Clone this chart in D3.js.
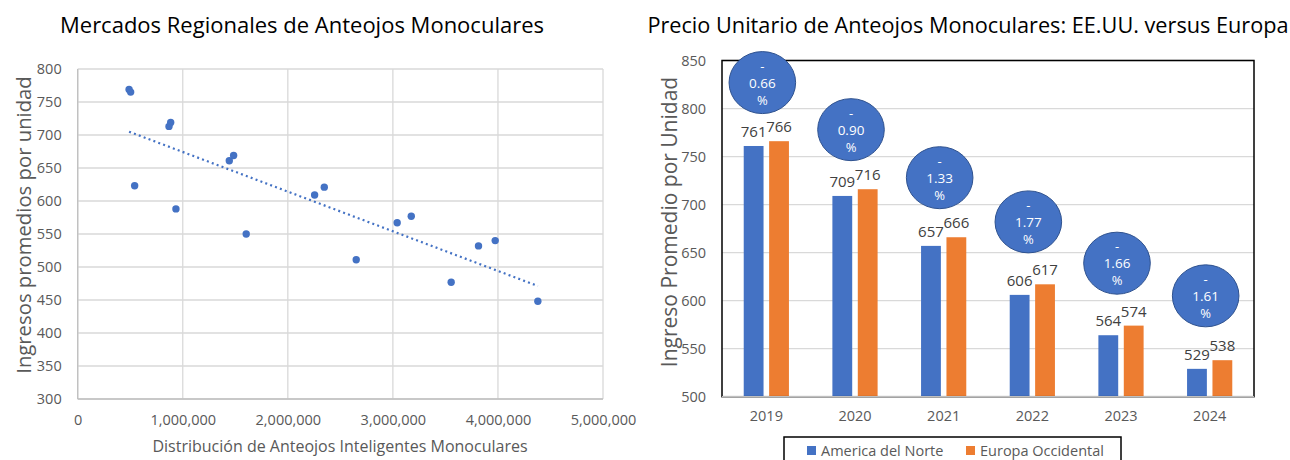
<!DOCTYPE html>
<html>
<head>
<meta charset="utf-8">
<script src="https://cdn.jsdelivr.net/npm/d3@7"></script>
<style>
  body { margin: 0; background: #fff; }
  text { font-family: "Open Sans", "Noto Sans", sans-serif; }
</style>
</head>
<body>
<script>
// ---- data: scatter (regional markets) ----
const units = [489000, 504000, 542000, 869000, 885000, 935000, 1443000, 1484000, 1604000,
               2255000, 2347000, 2651000, 3041000, 3175000, 3555000, 3815000, 3974000, 4380000];
const revenue = [769, 765, 623, 713, 719, 588, 661, 669, 550,
                 609, 621, 511, 567, 577, 477, 532, 540, 448];
const scatterXTicks = [0, 1000000, 2000000, 3000000, 4000000, 5000000];
const scatterYTicks = [300, 350, 400, 450, 500, 550, 600, 650, 700, 750, 800];

// ---- data: bars (unit price US vs Europe) ----
const years = ["2019", "2020", "2021", "2022", "2023", "2024"];
const series = ["America del Norte", "Europa Occidental"];
const northAmerica = [761, 709, 657, 606, 564, 529];
const westEurope = [766, 716, 666, 617, 574, 538];
const gapLabels = ["0.66", "0.90", "1.33", "1.77", "1.66", "1.61"];
const bubbleLevel = [827, 778, 728, 682, 639, 605];
const barYTicks = [500, 550, 600, 650, 700, 750, 800, 850];

const blue = "#4472C4", orange = "#ED7D31", grid = "#d9d9d9", tickCol = "#595959";

let width = 1290, height = 460;
let svg = d3.select("body").append("svg")
    .attr("width", width)
    .attr("height", height);

// ================= left chart =================
let xS = d3.scaleLinear().domain([0, 5000000]).range([77.7, 603]);
let yS = d3.scaleLinear().domain([300, 800]).range([399, 69]);

let left = svg.append("g");

left.selectAll(".hg").data(scatterYTicks).enter().append("line")
    .attr("x1", xS(0)).attr("x2", xS(5000000))
    .attr("y1", d => yS(d)).attr("y2", d => yS(d))
    .attr("stroke", grid).attr("stroke-width", 1.3);
left.selectAll(".vg").data(scatterXTicks).enter().append("line")
    .attr("x1", d => xS(d)).attr("x2", d => xS(d))
    .attr("y1", yS(300)).attr("y2", yS(800))
    .attr("stroke", grid).attr("stroke-width", 1.3);
// axis lines
left.append("line").attr("x1", xS(0)).attr("x2", xS(5000000))
    .attr("y1", yS(300)).attr("y2", yS(300)).attr("stroke", "#bfbfbf").attr("stroke-width", 1.3);
left.append("line").attr("x1", xS(0)).attr("x2", xS(0))
    .attr("y1", yS(300)).attr("y2", yS(800)).attr("stroke", "#bfbfbf").attr("stroke-width", 1.3);

let fmt = d3.format(",");
let xAx = left.append("g")
    .attr("transform", `translate(0,${yS(300)})`)
    .call(d3.axisBottom(xS).tickValues(scatterXTicks).tickFormat(fmt).tickSize(0).tickPadding(16));
let yAx = left.append("g")
    .attr("transform", `translate(${xS(0)},0)`)
    .call(d3.axisLeft(yS).tickValues(scatterYTicks).tickSize(0).tickPadding(16));
[xAx, yAx].forEach(a => {
    a.select(".domain").remove();
    a.selectAll("text").attr("fill", tickCol).style("font-size", "14.5px")
        .style("font-family", "'Open Sans', sans-serif");
});

// trend line (least squares)
let mx = d3.mean(units), my = d3.mean(revenue);
let slope = d3.sum(units, (u, i) => (u - mx) * (revenue[i] - my)) / d3.sum(units, u => (u - mx) * (u - mx));
let icpt = my - slope * mx;
let x0 = d3.min(units), x1 = d3.max(units);
left.append("line")
    .attr("x1", xS(x0)).attr("y1", yS(icpt + slope * x0))
    .attr("x2", xS(x1)).attr("y2", yS(icpt + slope * x1))
    .attr("stroke", blue).attr("stroke-width", 2.2)
    .attr("stroke-dasharray", "2,3.2");

left.selectAll("circle").data(units).enter().append("circle")
    .attr("cx", d => xS(d))
    .attr("cy", (d, i) => yS(revenue[i]))
    .attr("r", 3.7)
    .attr("fill", blue);

left.append("text")
    .attr("x", 302).attr("y", 33)
    .attr("text-anchor", "middle")
    .style("font-size", "22px").attr("fill", "#000")
    .text("Mercados Regionales de Anteojos Monoculares");
left.append("text")
    .attr("transform", "rotate(-90)")
    .attr("x", -225).attr("y", 31)
    .attr("text-anchor", "middle")
    .style("font-size", "20.3px").attr("fill", tickCol)
    .text("Ingresos promedios por unidad");
left.append("text")
    .attr("x", 340).attr("y", 452)
    .attr("text-anchor", "middle")
    .style("font-size", "16px").attr("fill", tickCol)
    .text("Distribución de Anteojos Inteligentes Monoculares");

// ================= right chart =================
let xB = d3.scaleBand().domain(years).range([722, 1254]).paddingInner(0.49).paddingOuter(0.245);
let xSub = d3.scaleBand().domain(series).range([0, xB.bandwidth()]).paddingInner(0.22);
let yB = d3.scaleLinear().domain([500, 850]).range([396.7, 60.5]);
let colorScale = d3.scaleOrdinal().domain(series).range([blue, orange]);

let right = svg.append("g");

right.selectAll(".hg").data(barYTicks).enter().append("line")
    .attr("x1", 722).attr("x2", 1254)
    .attr("y1", d => yB(d)).attr("y2", d => yB(d))
    .attr("stroke", grid).attr("stroke-width", 1.3);

let yAxB = right.append("g")
    .attr("transform", "translate(722,0)")
    .call(d3.axisLeft(yB).tickValues(barYTicks).tickSize(0).tickPadding(16));
let xAxB = right.append("g")
    .attr("transform", `translate(0,${yB(500)})`)
    .call(d3.axisBottom(xB).tickSize(0).tickPadding(14));
[xAxB, yAxB].forEach(a => {
    a.select(".domain").remove();
    a.selectAll("text").attr("fill", tickCol).style("font-size", "14.5px")
        .style("font-family", "'Open Sans', sans-serif");
});

let rows = years.map((y, i) => ({ year: y, vals: [northAmerica[i], westEurope[i]] }));
let grp = right.selectAll(".grp").data(rows).enter().append("g")
    .attr("transform", d => `translate(${xB(d.year)},0)`);
grp.selectAll("rect").data(d => d.vals.map((v, k) => ({ s: series[k], v: v })))
    .enter().append("rect")
    .attr("x", d => xSub(d.s))
    .attr("width", xSub.bandwidth())
    .attr("y", d => yB(d.v))
    .attr("height", d => yB(500) - yB(d.v))
    .attr("fill", d => colorScale(d.s));
grp.selectAll(".vl").data(d => d.vals.map((v, k) => ({ s: series[k], v: v })))
    .enter().append("text")
    .attr("x", d => xSub(d.s) + xSub.bandwidth() / 2)
    .attr("y", d => yB(d.v) - 9)
    .attr("text-anchor", "middle")
    .style("font-size", "15px").attr("fill", "#404040")
    .text(d => d.v);

// plot border
right.append("rect")
    .attr("x", 722).attr("y", yB(850))
    .attr("width", 1254 - 722).attr("height", yB(500) - yB(850))
    .attr("fill", "none").attr("stroke", "#000").attr("stroke-width", 1.5);
right.append("line").attr("x1", 722).attr("x2", 1254)
    .attr("y1", yB(500)).attr("y2", yB(500))
    .attr("stroke", "#bfbfbf").attr("stroke-width", 1.5);

// difference bubbles
let bub = right.selectAll(".bub").data(years).enter().append("g")
    .attr("transform", (d, i) => `translate(${xB(d) + xB.bandwidth() / 2 - 4},${yB(bubbleLevel[i])})`);
bub.append("ellipse")
    .attr("rx", 33.3).attr("ry", 31)
    .attr("fill", blue).attr("stroke", "#2F528F").attr("stroke-width", 1);
bub.append("text").attr("y", -12).attr("text-anchor", "middle")
    .style("font-size", "13px").attr("fill", "#fff").text("-");
bub.append("text").attr("y", 5).attr("text-anchor", "middle")
    .style("font-size", "13.5px").attr("fill", "#fff").text((d, i) => gapLabels[i]);
bub.append("text").attr("y", 22).attr("text-anchor", "middle")
    .style("font-size", "13px").attr("fill", "#fff").text("%");

right.append("text")
    .attr("x", 968).attr("y", 33)
    .attr("text-anchor", "middle")
    .style("font-size", "21.7px").attr("fill", "#000")
    .text("Precio Unitario de Anteojos Monoculares: EE.UU. versus Europa");
right.append("text")
    .attr("transform", "rotate(-90)")
    .attr("x", -222).attr("y", 677)
    .attr("text-anchor", "middle")
    .style("font-size", "21px").attr("fill", tickCol)
    .text("Ingreso Promedio por Unidad");

// legend
right.append("rect")
    .attr("x", 784).attr("y", 437)
    .attr("width", 337).attr("height", 40)
    .attr("fill", "#fff").attr("stroke", "#000").attr("stroke-width", 1.5);
const legend = right.selectAll(".legend").data(series).enter().append("g")
    .attr("transform", (d, i) => `translate(${i === 0 ? 807 : 966},446)`);
legend.append("rect").attr("width", 9).attr("height", 9)
    .attr("fill", d => colorScale(d));
legend.append("text").attr("x", 14).attr("y", 9.5)
    .style("font-size", "14.5px").attr("fill", tickCol)
    .text(d => d);
</script>
</body>
</html>
